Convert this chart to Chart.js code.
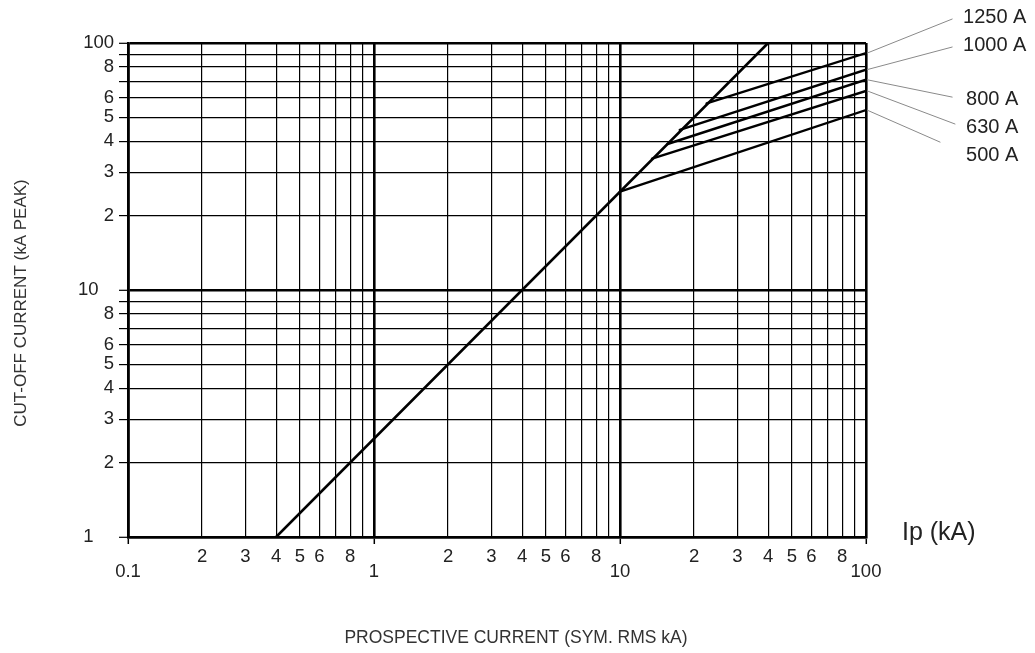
<!DOCTYPE html>
<html>
<head>
<meta charset="utf-8">
<script src="https://cdn.jsdelivr.net/npm/chart.js@4.4.1/dist/chart.umd.min.js"></script>
<style>
  html, body { margin: 0; padding: 0; background: #fff; }
  #wrap { position: relative; width: 1035px; height: 653px; }
</style>
</head>
<body>
<div id="wrap"><canvas id="c"></canvas></div>
<script>
// ---------- data ----------
const xTicks = [0.1,0.2,0.3,0.4,0.5,0.6,0.7,0.8,0.9,1,2,3,4,5,6,7,8,9,10,20,30,40,50,60,70,80,90,100];
const xTickText = ['0.1','2','3','4','5','6','','8','','1','2','3','4','5','6','','8','','10','2','3','4','5','6','','8','','100'];
const xDecades = [0.1,1,10,100];

const yTicks = [1,2,3,4,5,6,7,8,9,10,20,30,40,50,60,70,80,90,100];
const yTickText = ['1','2','3','4','5','6','','8','','10','2','3','4','5','6','','8','','100'];
const yDecades = [1,10,100];

// max. cut-off envelope (prospective current kA -> peak kA)
const envelopeX = [0.4, 40];
const envelopeY = [1, 100];

// fuse ratings: each curve leaves the envelope and runs to 100 kA
const fuseRatings = ['1250 A','1000 A','800 A','630 A','500 A'];
const fuseStartX  = [22.5, 17.5, 15.6, 13.5, 10];
const fuseStartY  = [57, 44.5, 39, 34, 25];
const fuseEndX    = [100, 100, 100, 100, 100];
const fuseEndY    = [91, 78, 71, 64, 53.5];

// label anchors (data coordinates, outside plot on the right)
const labelAnchorX = [248, 248, 255, 255, 255];
const labelAnchorY = [127, 98, 58.8, 45.3, 34.9];
const leaderEndX   = [224, 224, 224, 230, 200];
const leaderEndY   = [125, 96.3, 60.4, 47, 39.7];

// ---------- build datasets ----------
const datasets = [];
datasets.push({
  label: 'envelope',
  data: envelopeX.map((x, i) => ({x, y: envelopeY[i]})),
  borderColor: '#000', borderWidth: 2.6, pointRadius: 0, showLine: true
});
fuseRatings.forEach((name, i) => {
  datasets.push({
    label: name,
    data: [{x: fuseStartX[i], y: fuseStartY[i]}, {x: fuseEndX[i], y: fuseEndY[i]}],
    borderColor: '#000', borderWidth: 2.4, pointRadius: 0, showLine: true
  });
});
fuseRatings.forEach((name, i) => {
  datasets.push({
    label: name + ' leader',
    data: [{x: fuseEndX[i] * 1.01, y: fuseEndY[i]}, {x: leaderEndX[i], y: leaderEndY[i]}],
    borderColor: '#8a8a8a', borderWidth: 1, pointRadius: 0, showLine: true, clip: false
  });
});

const FONT = "'Liberation Sans', Arial, sans-serif";

const textPlugin = {
  id: 'texts',
  afterDraw(chart) {
    const {ctx, chartArea, scales} = chart;
    const xs = scales.x, ys = scales.y;
    ctx.save();
    // fuse labels
    ctx.fillStyle = '#222';
    ctx.font = '20px ' + FONT;
    ctx.textAlign = 'left';
    ctx.textBaseline = 'middle';
    fuseRatings.forEach((name, i) => {
      ctx.fillText(name, xs.getPixelForValue(labelAnchorX[i]), ys.getPixelForValue(labelAnchorY[i]));
    });
    // Ip (kA)
    ctx.font = '25px ' + FONT;
    ctx.fillText('Ip (kA)', chartArea.right + 36, chartArea.bottom - 4);
    // axis titles
    ctx.fillStyle = '#333';
    ctx.font = '17.5px ' + FONT;
    ctx.textAlign = 'center';
    ctx.fillText('PROSPECTIVE CURRENT (SYM. RMS kA)', (chartArea.left + chartArea.right) / 2 + 19, chartArea.bottom + 101);
    ctx.font = '17px ' + FONT;
    ctx.translate(21, (chartArea.top + chartArea.bottom) / 2 + 13);
    ctx.rotate(-Math.PI / 2);
    ctx.fillText('CUT-OFF CURRENT (kA PEAK)', 0, 0);
    ctx.restore();
  }
};

const yShift = {10: 3, 1: 4}; // trailing spaces to nudge these labels left

new Chart(document.getElementById('c'), {
  type: 'scatter',
  data: { datasets },
  options: {
    responsive: true,
    maintainAspectRatio: false,
    animation: false,
    devicePixelRatio: 1,
    layout: { padding: { top: 43, right: 169, bottom: 0, left: 0 } },
    plugins: { legend: { display: false }, tooltip: { enabled: false } },
    elements: { line: { tension: 0, borderCapStyle: 'round' } },
    scales: {
      x: {
        type: 'logarithmic',
        min: 0.1, max: 100,
        afterBuildTicks: s => { s.ticks = xTicks.map(v => ({value: v})); },
        afterFit: s => { s.height = 116; },
        border: { display: true, color: '#000', width: 2.6 },
        grid: {
          color: '#000',
          lineWidth: c => (c.tick && xDecades.includes(c.tick.value)) ? 2.6 : 1.2,
          drawTicks: true,
          tickLength: 7,
          tickWidth: 1.5,
          tickColor: c => (c.tick && xDecades.includes(c.tick.value)) ? '#000' : 'rgba(0,0,0,0)'
        },
        ticks: {
          autoSkip: false, maxRotation: 0, minRotation: 0,
          color: '#222', padding: 5,
          font: { family: FONT, size: 18.5, lineHeight: 0.83 },
          callback: (v, i) => {
            const t = xTickText[i];
            return xDecades.includes(xTicks[i]) ? ['', t] : t;
          }
        }
      },
      y: {
        type: 'logarithmic',
        min: 1, max: 100,
        afterBuildTicks: s => { s.ticks = yTicks.map(v => ({value: v})); },
        afterFit: s => { s.width = 128; },
        border: { display: true, color: '#000', width: 2.6 },
        grid: {
          color: '#000',
          lineWidth: c => (c.tick && yDecades.includes(c.tick.value)) ? 2.6 : 1.2,
          drawTicks: true,
          tickLength: 9,
          tickWidth: 1.2,
          tickColor: '#000'
        },
        ticks: {
          autoSkip: false, color: '#222', padding: 5,
          font: { family: FONT, size: 18.5 },
          callback: (v, i) => {
            const t = yTickText[i];
            const n = yShift[yTicks[i]] || 0;
            return t + ' '.repeat(n);
          }
        }
      }
    }
  },
  plugins: [textPlugin]
});
</script>
</body>
</html>
